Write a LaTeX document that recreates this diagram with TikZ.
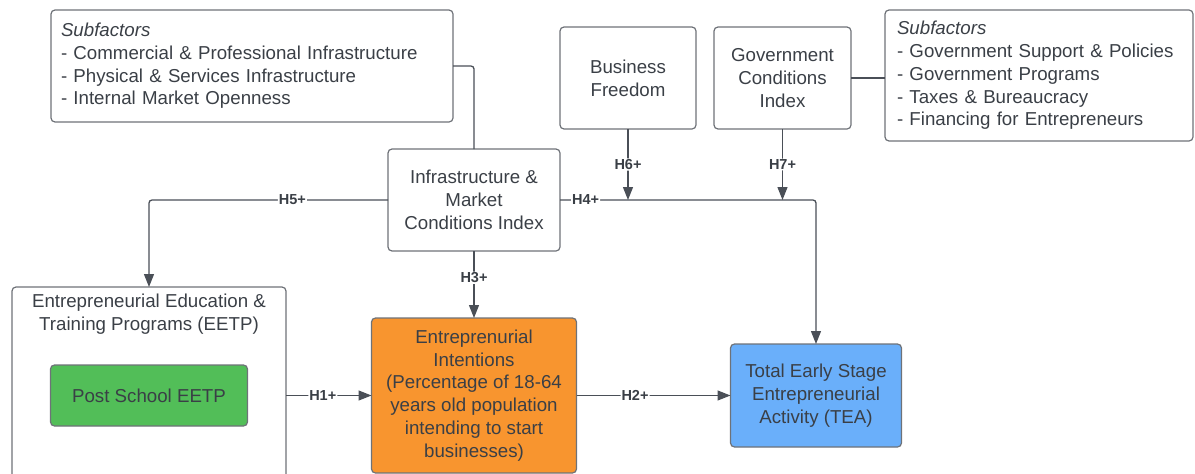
\documentclass[tikz,border=0pt]{standalone}
\usepackage{fontspec}
\setmainfont{Liberation Sans}
\usetikzlibrary{positioning,arrows.meta}

\definecolor{ink}{HTML}{3A3F46}
\definecolor{wire}{HTML}{4A4F57}
\definecolor{edge}{HTML}{6E7278}
\definecolor{intentorange}{HTML}{F8952F}
\definecolor{eetpgreen}{HTML}{52BE58}
\definecolor{teablue}{HTML}{6AAFFA}

\tikzset{
  box/.style={draw=edge, line width=1.2pt, rounded corners=4pt, align=center,
    inner sep=0pt, outer sep=0pt, text=ink, font=\fontsize{18.7}{22.7}\selectfont},
  subbox/.style={box, align=left, inner xsep=10pt},
  hyp/.style={fill=white, inner sep=1pt, text=ink, font=\bfseries\fontsize{14.5}{16}\selectfont},
  link/.style={draw=wire, line width=1.3pt, rounded corners=3pt},
  arrow/.style={link, -{Triangle[length=13pt,width=10pt]}}
}

\begin{document}
\begin{tikzpicture}
    \useasboundingbox (0,0) rectangle (1195pt,-474pt);

    \node[box, minimum width=172pt, minimum height=102pt] (infra) at (474pt,-200pt) {Infrastructure \&\\Market\\Conditions Index};
    \node[box, minimum width=136pt, minimum height=102pt, above right=20pt and 0pt of infra.north east] (bf) {Business\\Freedom};
    \node[box, minimum width=137pt, minimum height=102pt, right=18pt of bf] (gov) {Government\\Conditions\\Index};
    \node[subbox, text width=284pt, inner xsep=12pt, minimum height=131pt, right=34pt of gov, yshift=2.5pt] (govsub) {\textit{Subfactors}\\- Government Support \& Policies\\- Government Programs\\- Taxes \& Bureaucracy\\- Financing for Entrepreneurs};
    \node[subbox, text width=382pt, minimum height=112pt, left=107pt of bf, yshift=12pt] (infrasub) {\textit{Subfactors}\\- Commercial \& Professional Infrastructure\\- Physical \& Services Infrastructure\\- Internal Market Openness};

    \node[box, fill=intentorange, minimum width=205pt, minimum height=155pt, below=67pt of infra] (intent) {Entreprenurial\\Intentions\\(Percentage of 18-64\\years old population\\intending to start\\businesses)};
    \node[box, fill=teablue, minimum width=171pt, minimum height=103pt, right=154pt of intent] (tea) {Total Early Stage\\Entrepreneurial\\Activity (TEA)};
    \node[box, fill=eetpgreen, minimum width=197pt, minimum height=61pt, left=124pt of intent] (post) {Post School EETP};
    \node[box, minimum width=274pt, minimum height=200pt, above=78pt of post.north, anchor=north] (eetp) {};
    \node[box, draw=none, below=7pt of eetp.north] (eetptitle) {Entrepreneurial Education \&\\Training Programs (EETP)};

    \draw[link] (infrasub.east) -| (infra.north);
    \draw[link] (gov.east) -- (gov.east -| govsub.west);
    \draw[arrow] (bf.south) -- node[hyp] {H6+} (bf.south |- infra.east);
    \draw[arrow] (gov.south) -- node[hyp] {H7+} (gov.south |- infra.east);
    \draw[arrow] (infra.east) -| node[hyp, pos=0.05] {H4+} (tea.north);
    \draw[arrow] (infra.west) -| node[hyp, pos=0.2] {H5+} (eetp.north);
    \draw[arrow] (infra.south) -- node[hyp, pos=0.4] {H3+} (intent.north);
    \draw[arrow] (eetp.east |- intent.west) -- node[hyp, pos=0.43] {H1+} (intent.west);
    \draw[arrow] (intent.east) -- node[hyp, pos=0.38] {H2+} (intent.east -| tea.west);
\end{tikzpicture}
\end{document}
